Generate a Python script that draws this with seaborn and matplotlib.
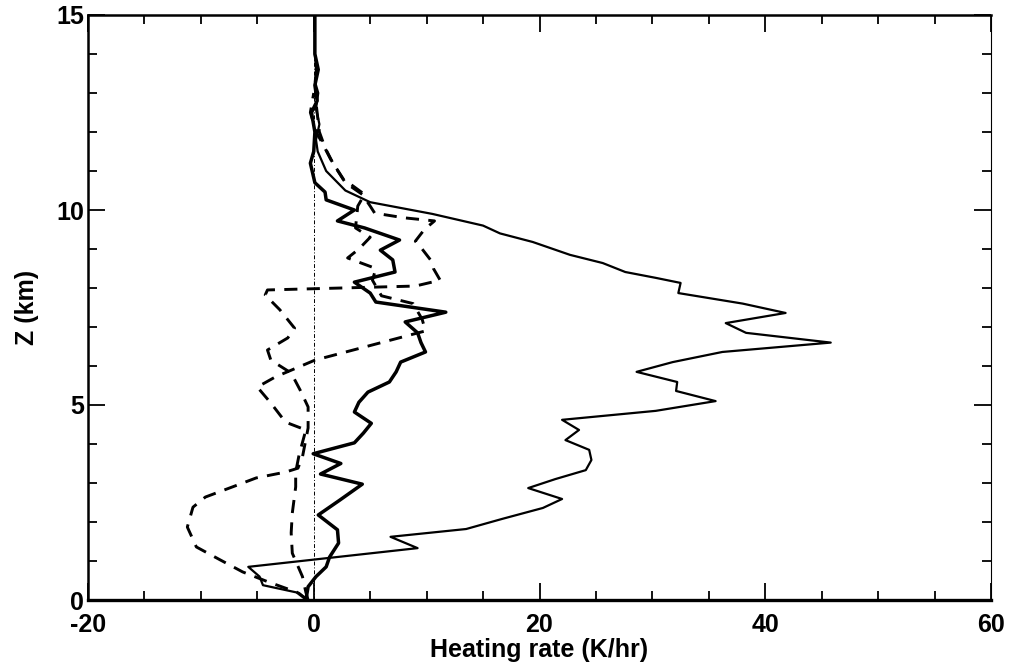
import numpy as np
import pandas as pd
import matplotlib
matplotlib.use("Agg")
import matplotlib.pyplot as plt
from matplotlib.ticker import MultipleLocator
import seaborn as sns

# Heating-rate profiles (K/hr) against height (km)

# total heating, solid thin line
total_z = [0.0, 0.18, 0.38, 0.6, 0.85, 1.09, 1.33, 1.62, 1.82, 2.08, 2.36, 2.59,
           2.87, 3.1, 3.33, 3.59, 3.85, 4.1, 4.36, 4.62, 4.85, 5.1, 5.36, 5.59,
           5.85, 6.1, 6.36, 6.6, 6.85, 7.1, 7.36, 7.6, 7.87, 8.13, 8.26, 8.41,
           8.64, 8.85, 9.18, 9.4, 9.6, 9.9, 10.2, 10.5, 11.0, 11.5, 11.8, 12.2,
           12.6, 13.0, 13.3, 13.6, 14.0, 15.0]
total_rate = [-0.5, -1.3, -4.5, -4.8, -5.8, 1.7, 9.2, 6.8, 13.5, 16.7, 20.3, 22.0,
              19.0, 21.4, 24.1, 24.6, 24.4, 22.3, 23.5, 22.0, 30.3, 35.6, 32.1, 32.2,
              28.6, 31.8, 36.2, 45.8, 38.3, 36.5, 41.8, 38.0, 32.3, 32.5, 30.3, 27.6,
              25.6, 22.7, 19.4, 16.5, 15.0, 10.5, 5.0, 2.8, 1.1, 0.35, 0.2, 0.5,
              0.2, 0.4, 0.1, 0.2, 0.1, 0.1]

# second profile, solid thick line
mid_z = [0.0, 0.34, 0.6, 0.85, 1.1, 1.46, 1.8, 2.18, 2.56, 2.97, 3.23, 3.5,
         3.75, 4.03, 4.28, 4.53, 4.82, 5.07, 5.33, 5.59, 5.85, 6.1, 6.36, 6.6,
         6.85, 7.13, 7.38, 7.64, 7.87, 8.15, 8.41, 8.72, 8.97, 9.23, 9.54, 9.72,
         10.0, 10.26, 10.46, 10.7, 11.2, 11.5, 12.0, 12.5, 12.8, 13.2, 13.6, 14.0,
         15.0]
mid_rate = [-0.7, -0.5, 0.2, 1.1, 1.4, 2.2, 2.1, 0.4, 2.3, 4.3, 0.6, 2.4,
            -0.05, 3.6, 4.4, 5.1, 3.6, 4.0, 4.8, 6.7, 7.3, 7.7, 9.9, 9.5,
            9.2, 8.1, 11.7, 5.5, 5.0, 3.6, 7.2, 7.0, 5.9, 7.6, 4.5, 2.1,
            3.6, 1.1, 1.0, 0.1, -0.3, 0.0, 0.1, -0.2, 0.3, 0.1, 0.4, 0.1,
            0.1]

# first dashed profile
dashA_z = [0.0, 0.2, 0.46, 0.72, 1.03, 1.36, 1.87, 2.38, 2.64, 2.9, 3.13, 3.28,
           3.38, 3.67, 4.41, 4.95, 5.38, 5.82, 6.15, 6.41, 6.72, 6.97, 7.44, 7.82,
           7.95, 8.05, 8.2, 8.5, 8.7, 9.0, 9.2, 9.5, 9.72, 9.8, 9.92, 10.1,
           10.4, 10.7, 11.2, 11.6, 12.0, 12.5, 13.0]
dashA_rate = [-0.6, -1.5, -4.0, -6.3, -8.3, -10.4, -11.2, -10.7, -9.6, -7.2, -5.1, -2.5,
              -1.4, -1.0, -0.5, -0.5, -1.2, -2.0, -3.8, -4.1, -2.3, -1.7, -3.0, -4.3,
              -4.1, 9.0, 11.2, 10.6, 10.4, 9.6, 9.0, 9.8, 10.7, 8.0, 5.4, 5.0,
              4.3, 2.8, 1.7, 1.0, 0.5, 0.3, 0.1]

# second dashed profile
dashB_z = [0.0, 0.2, 0.6, 1.2, 1.72, 2.23, 2.9, 3.28, 3.72, 4.36, 4.56, 5.05,
           5.46, 5.72, 6.15, 6.9, 7.2, 7.6, 7.8, 8.2, 8.5, 8.77, 9.0, 9.3,
           9.54, 10.1, 10.4, 10.8, 11.3, 11.8, 12.0, 12.5, 13.0]
dashB_rate = [-0.5, -0.7, -1.0, -1.9, -2.0, -1.9, -1.6, -1.6, -1.3, -0.7, -2.5, -3.8,
              -5.0, -3.4, 0.1, 9.9, 9.6, 8.8, 6.0, 5.2, 5.5, 3.0, 4.0, 5.0,
              3.7, 3.9, 4.5, 2.6, 1.5, 0.6, 0.2, -0.3, 0.0]

x_ticks = [-20, 0, 20, 40, 60]
y_ticks = [0, 5, 10, 15]

sns.set_theme(style="white")
plt.rcParams["font.family"] = ["Liberation Sans", "DejaVu Sans"]
plt.rcParams["font.weight"] = "bold"
plt.rcParams["axes.unicode_minus"] = False
plt.rcParams["text.color"] = "black"
plt.rcParams["axes.labelcolor"] = "black"
plt.rcParams["xtick.color"] = "black"
plt.rcParams["ytick.color"] = "black"

fig = plt.figure(figsize=(10.09, 6.65), dpi=100)
ax = fig.add_axes([88 / 1009, 65 / 665, 903 / 1009, 585 / 665])

# zero reference line
ax.axvline(0, color="black", lw=0.7, ls=(0, (4, 2, 1, 2)), zorder=1)

profiles = [
    (total_rate, total_z, "-", 1.6),
    (mid_rate, mid_z, "-", 2.5),
]
for rate, z, ls, lw in profiles:
    df = pd.DataFrame({"rate": rate, "z": z})
    sns.lineplot(data=df, x="rate", y="z", sort=False, estimator=None,
                 color="black", lw=lw, ls=ls, ax=ax, zorder=3)

for rate, z in [(dashA_rate, dashA_z), (dashB_rate, dashB_z)]:
    df = pd.DataFrame({"rate": rate, "z": z})
    sns.lineplot(data=df, x="rate", y="z", sort=False, estimator=None,
                 color="black", lw=2.1, ax=ax, zorder=2)
    ax.lines[-1].set_dashes((4.5, 3.2))

ax.set_xlim(-20, 60)
ax.set_ylim(0, 15)
ax.set_xticks(x_ticks)
ax.set_yticks(y_ticks)
ax.xaxis.set_minor_locator(MultipleLocator(5))
ax.yaxis.set_minor_locator(MultipleLocator(1))

ax.tick_params(which="both", direction="in", bottom=True, left=True,
               top=True, right=True, color="black", width=1.3)
ax.tick_params(which="major", length=12)
ax.tick_params(which="minor", length=6.5)
ax.tick_params(axis="x", which="major", pad=9, labelsize=18, labelcolor="black")
ax.tick_params(axis="y", which="major", pad=3, labelsize=18, labelcolor="black")
for lab in ax.get_xticklabels() + ax.get_yticklabels():
    lab.set_fontweight("bold")

for side, lw in [("bottom", 2.4), ("left", 1.8), ("top", 1.8), ("right", 0.8)]:
    ax.spines[side].set_color("black")
    ax.spines[side].set_linewidth(lw)

ax.set_xlabel("Heating rate (K/hr)", fontsize=18, fontweight="bold",
              labelpad=1, color="black")
ax.set_ylabel("Z (km)", fontsize=18, fontweight="bold", labelpad=12,
              color="black")
ax.grid(False)

fig.savefig("out.png", dpi=100, facecolor="white")
